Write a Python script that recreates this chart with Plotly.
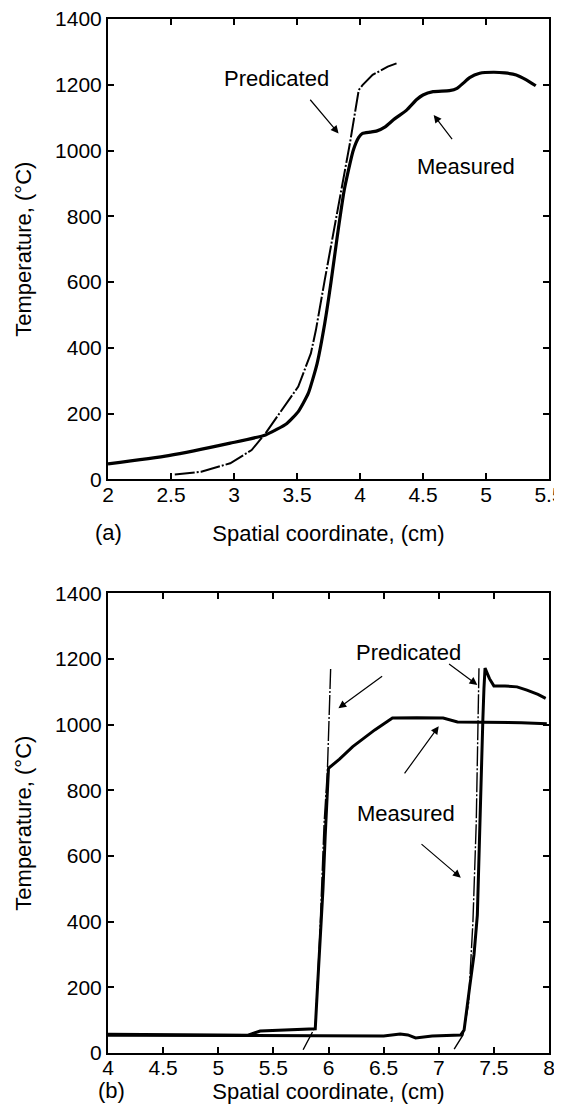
import plotly.graph_objects as go

# ---------------- data ----------------
# Panel (a)
a_meas_x = [2.0, 2.48, 2.97, 3.25, 3.42, 3.51, 3.59, 3.66, 3.72, 3.77, 3.82, 3.875, 3.946,
            3.99, 4.02, 4.08, 4.13, 4.20, 4.27, 4.37, 4.45, 4.50, 4.58, 4.71, 4.77, 4.82,
            4.87, 4.95, 5.06, 5.15, 5.24, 5.32, 5.395]
a_meas_y = [47, 72, 110, 135, 170, 206, 262, 353, 474, 600, 740, 880, 1000,
            1040, 1052, 1056, 1059, 1072, 1095, 1123, 1155, 1169, 1179, 1182, 1189, 1205,
            1222, 1235, 1238, 1236, 1230, 1215, 1197]

a_pred_x = [2.53, 2.74, 2.97, 3.14, 3.25, 3.39, 3.51, 3.61, 3.65, 3.72, 3.79, 3.86, 3.92,
            3.99, 4.02, 4.10, 4.22, 4.29]
a_pred_y = [15, 23, 49, 89, 140, 216, 282, 383, 454, 606, 750, 890, 1022,
            1184, 1199, 1230, 1255, 1265]

# Panel (b)
b_meas1_x = [4.0, 4.5, 5.0, 5.27, 5.38, 5.58, 5.88, 5.90, 5.92, 5.95, 5.97, 5.99, 6.0,
             6.1, 6.22, 6.42, 6.58, 6.8, 7.04, 7.17, 7.5, 7.75, 7.98]
b_meas1_y = [57, 56, 55, 54, 67, 70, 74, 200, 314, 500, 660, 800, 867,
             895, 933, 984, 1020, 1021, 1020, 1008, 1007, 1006, 1003]

b_meas2_x = [4.0, 4.5, 5.0, 5.5, 6.0, 6.5, 6.65, 6.72, 6.79, 6.94, 7.2, 7.23, 7.28,
             7.32, 7.35, 7.37, 7.385, 7.40, 7.41, 7.42, 7.46, 7.5, 7.6, 7.71, 7.8, 7.9, 7.97]
b_meas2_y = [54, 54, 53, 53, 52, 52, 58, 55, 46, 52, 55, 70, 200,
             300, 420, 660, 900, 1014, 1110, 1172, 1140, 1118, 1118, 1115, 1105, 1092, 1080]

b_pred1_x = [5.77, 5.84, 5.88, 5.92, 5.96, 5.99, 6.005, 6.02]
b_pred1_y = [10, 52, 80, 350, 700, 860, 1014, 1175]

b_pred2_x = [7.14, 7.22, 7.27, 7.31, 7.34, 7.355, 7.365]
b_pred2_y = [12, 55, 150, 400, 700, 1000, 1175]

y_range = [0, 1400]
a_x_range = [2, 5.5]
b_x_range = [4, 8]

# ---------------- figure ----------------
FONT = "Liberation Sans, Arial, Helvetica, sans-serif"
PRED_DASH = "20px,2px,2px,2px"

fig = go.Figure()

def line_trace(x, y, xa, ya, width, dash="solid", shape="linear"):
    return go.Scatter(x=x, y=y, xaxis=xa, yaxis=ya, mode="lines",
                      line=dict(color="black", width=width, dash=dash, shape=shape,
                                smoothing=0.5),
                      showlegend=False, hoverinfo="skip")

fig.add_trace(line_trace(a_meas_x, a_meas_y, "x", "y", 3.2, shape="spline"))
fig.add_trace(line_trace(a_pred_x, a_pred_y, "x", "y", 2.0, dash=PRED_DASH))
fig.add_trace(line_trace(b_meas1_x, b_meas1_y, "x2", "y2", 3.0))
fig.add_trace(line_trace(b_meas2_x, b_meas2_y, "x2", "y2", 3.0))
fig.add_trace(line_trace(b_pred1_x, b_pred1_y, "x2", "y2", 1.4, dash=PRED_DASH))
fig.add_trace(line_trace(b_pred2_x, b_pred2_y, "x2", "y2", 1.4, dash=PRED_DASH))

axis_style = dict(showline=True, linecolor="black", linewidth=2, mirror="ticks",
                  ticks="inside", ticklen=6, tickwidth=1.5, tickcolor="black",
                  showgrid=False, zeroline=False, automargin=False,
                  ticklabeloverflow="allow",
                  tickfont=dict(size=21, color="black", family=FONT))
title_font = dict(size=22, color="black", family=FONT)

# the page body adds an 8px offset, so margins are shifted to compensate
fig.update_layout(
    width=562, height=1115,
    margin=dict(l=100, r=21, t=11, b=70),
    paper_bgcolor="white", plot_bgcolor="white",
    font=dict(family=FONT, color="black"),
    xaxis=dict(domain=[0, 1], anchor="y", range=a_x_range, dtick=0.5, tick0=2,
               title=dict(text="Spatial coordinate, (cm)", font=title_font, standoff=21),
               ticklabelstandoff=-5, **axis_style),
    yaxis=dict(domain=[0.5548, 1], anchor="x", range=y_range, dtick=200,
               title=dict(text="Temperature, (°C)", font=title_font, standoff=17),
               ticklabelstandoff=0, **axis_style),
    xaxis2=dict(domain=[0, 1], anchor="y2", range=b_x_range, dtick=0.5, tick0=4,
                title=dict(text="Spatial coordinate, (cm)", font=title_font, standoff=4),
                ticklabelstandoff=-5, **axis_style),
    yaxis2=dict(domain=[0, 0.4446], anchor="x2", range=y_range, dtick=200,
                title=dict(text="Temperature, (°C)", font=title_font, standoff=17),
                ticklabelstandoff=0, **axis_style),
)

ann_font = dict(size=22, color="black", family=FONT)
annotations = []

def label(text, x, y, xref, yref):
    annotations.append(dict(text=text, x=x, y=y, xref=xref, yref=yref, showarrow=False,
                            xanchor="center", yanchor="middle", font=ann_font))

def arrow(hx, hy, tx, ty, xref, yref):
    annotations.append(dict(text="", x=hx, y=hy, ax=tx, ay=ty, xref=xref, yref=yref,
                            axref=xref, ayref=yref, showarrow=True, arrowhead=2,
                            arrowsize=1.3, arrowwidth=1.2, arrowcolor="black", standoff=0))

# panel (a)
label("Predicated", 3.335, 1218, "x", "y")
arrow(3.83, 1052, 3.595, 1159, "x", "y")
label("Measured", 4.84, 951, "x", "y")
arrow(4.585, 1108, 4.74, 1030, "x", "y")
# panel (b)
label("Predicated", 6.73, 1219, "x2", "y2")
arrow(6.09, 1050, 6.50, 1151, "x2", "y2")
arrow(7.35, 1121, 7.08, 1188, "x2", "y2")
label("Measured", 6.70, 730, "x2", "y2")
arrow(7.0, 995, 6.68, 847, "x2", "y2")
arrow(7.2, 534, 6.83, 640, "x2", "y2")

# panel letters
annotations.append(dict(text="(a)", x=0.002, y=0.503, xref="paper", yref="paper",
                        showarrow=False, xanchor="center", yanchor="middle",
                        font=title_font))
annotations.append(dict(text="(b)", x=0.007, y=-0.0358, xref="paper", yref="paper",
                        showarrow=False, xanchor="center", yanchor="middle",
                        font=title_font))

fig.update_layout(annotations=annotations)

fig.write_html("out.html")
